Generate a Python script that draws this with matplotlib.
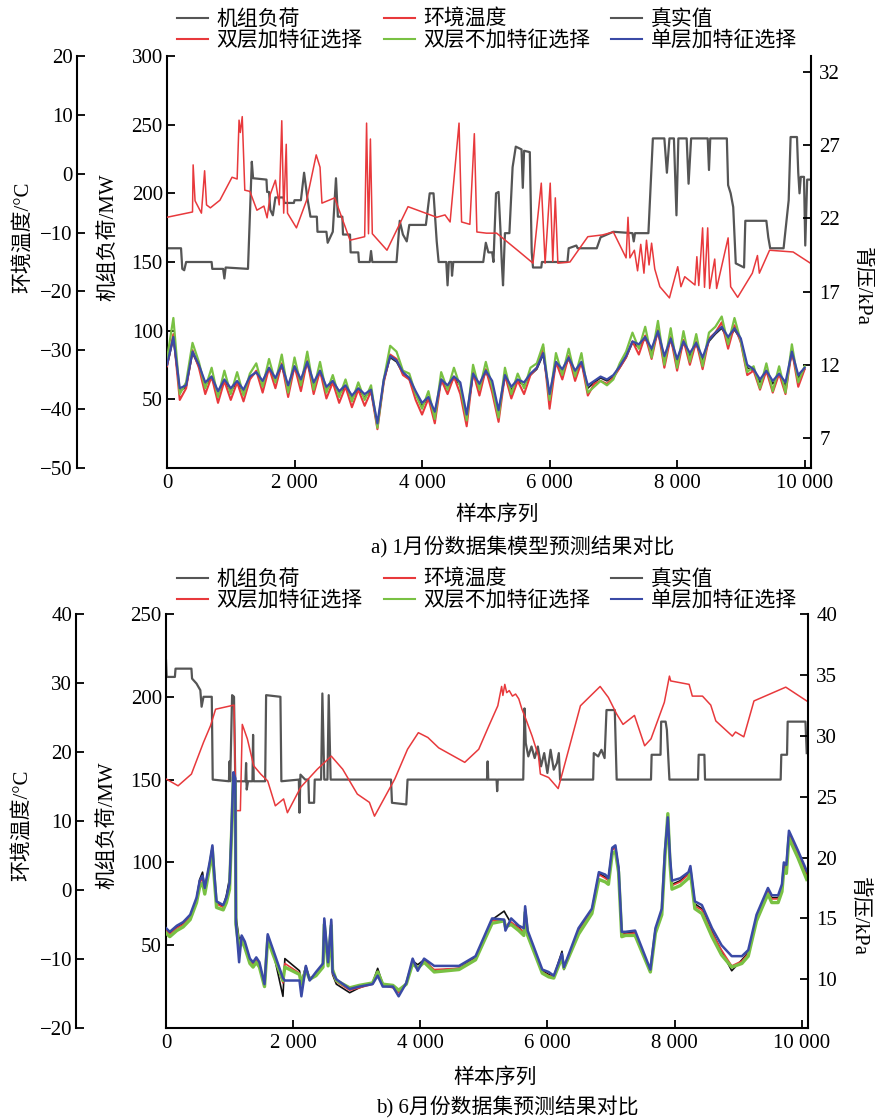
import matplotlib
matplotlib.use('Agg')
import matplotlib.pyplot as plt
from matplotlib.lines import Line2D

plt.rcParams['font.family'] = ['Liberation Serif', 'Noto Sans CJK SC']
plt.rcParams['axes.unicode_minus'] = True

# region data
xtick_vals = [0, 2000, 4000, 6000, 8000, 10000]
xtick_labels = ['0', '2 000', '4 000', '6 000', '8 000', '10 000']

# --- a) January ---
load_a_x = [0, 220, 240, 270, 300, 700, 710, 880, 900, 920, 1270, 1330, 1350, 1560, 1570, 1600, 1620,
            1660, 1700, 1830, 1840, 1990, 2000, 2100, 2150, 2200, 2250, 2350, 2360, 2500, 2520, 2600,
            2650, 2680, 2750, 2760, 2870, 2880, 3000, 3010, 3180, 3200, 3220, 3600, 3650, 3700, 3760,
            3800, 4060, 4120, 4180, 4230, 4260, 4380, 4400, 4420, 4460, 4470, 4490, 4960, 5000, 5040,
            5100, 5120, 5160, 5200, 5230, 5250, 5270, 5300, 5370, 5420, 5470, 5560, 5580, 5600, 5690,
            5720, 5740, 5870, 5880, 6280, 6300, 6420, 6440, 6740, 6800, 7000, 7300, 7320, 7340, 7550,
            7620, 7800, 7840, 7880, 7950, 7990, 8020, 8150, 8180, 8220, 8480, 8500, 8520, 8780, 8800,
            8840, 8880, 8920, 9050, 9070, 9400, 9430, 9460, 9670, 9750, 9780, 9880, 9900, 9920, 9940,
            9990, 10010, 10040, 10090]
load_a_y = [160, 160, 145, 144, 150, 150, 145, 145, 138, 146, 145, 223, 211, 210, 201, 201, 188,
            184, 197, 197, 193, 193, 195, 195, 215, 197, 183, 183, 172, 172, 164, 172,
            211, 183, 183, 170, 170, 157, 157, 150, 150, 158, 150, 150, 180, 170, 165,
            177, 177, 200, 200, 165, 150, 150, 133, 150, 150, 140, 150, 150, 164, 157,
            157, 150, 200, 201, 173, 150, 133, 171, 171, 219, 234, 232, 204, 231, 230,
            157, 146, 146, 150, 150, 160, 162, 160, 160, 168, 172, 171, 165, 171, 171,
            240, 240, 215, 240, 240, 184, 240, 240, 207, 240, 240, 217, 240, 240, 206,
            200, 190, 149, 146, 180, 180, 168, 160, 160, 195, 241, 241, 215, 200, 212,
            212, 162, 210, 210]

temp_a_x = [0, 400, 410, 440, 540, 590, 620, 680, 830, 1020, 1100, 1130, 1150, 1180, 1220, 1300,
            1410, 1520, 1570, 1620, 1700, 1760, 1800, 1830, 1870, 1890, 2030, 2190, 2340, 2400,
            2430, 2630, 2870, 3100, 3130, 3160, 3190, 3220, 3450, 3780, 4230, 4360, 4440, 4580,
            4620, 4750, 4820, 4860, 5010, 5170, 5530, 5740, 5870, 5930, 6010, 6050, 6090, 6130,
            6320, 6600, 6830, 7000, 7200, 7230, 7260, 7330, 7380, 7430, 7480, 7520, 7560, 7600,
            7650, 7730, 7880, 8010, 8060, 8120, 8280, 8310, 8340, 8400, 8430, 8480, 8510, 8590,
            8620, 8800, 8840, 8950, 9180, 9260, 9290, 9450, 9820, 10090]
temp_a_y = [-7.4, -6.5, 1.5, -4.6, -6.7, 0.5, -5.3, -5.8, -4.5, -0.6, -0.9, 9.1, 7.0, 9.7, -2.8, -3.0,
            -6.2, -5.5, -7.5, -3.5, -1.1, -5.3, 9.0, -6.7, 5.0, -6.7, -9.2, -4.5, 3.2, 1.1,
            -5.0, -4.1, -11.3, -10.7, 8.6, -10.2, 5.9, -10.2, -13.0, -5.6, -7.4, -7.0, -8.2, 8.6,
            -8.2, -8.6, 6.8, -9.9, -10.1, -10.1, -13.3, -15.2, -1.6, -15.2, -1.6, -14.9, -4.1, -15.2,
            -15.0, -10.7, -10.4, -9.9, -14.3, -7.4, -14.3, -13.0, -16.5, -12.0, -16.9, -11.3, -15.5, -11.8,
            -16.2, -19.2, -21.1, -15.8, -19.2, -17.5, -18.9, -14.1, -19.0, -9.2, -19.3, -9.2, -19.5, -14.5,
            -19.5, -10.9, -19.2, -21.0, -16.9, -13.9, -16.9, -13.0, -13.3, -15.2]

pred_a_x = list(range(0, 10001, 100))
true_a = [11.9, 13.8, 10.2, 10.5, 12.8, 11.9, 10.6, 11.1, 10.0, 10.9,
          10.2, 10.8, 10.1, 11.1, 11.5, 10.7, 11.7, 10.9, 11.9, 10.4,
          11.8, 10.8, 12.1, 10.6, 11.5, 10.3, 10.8, 10.0, 10.5, 9.7,
          10.3, 9.8, 10.2, 7.8, 10.9, 12.5, 12.2, 11.4, 11.0, 10.0,
          9.2, 9.7, 8.6, 10.9, 10.4, 11.1, 10.6, 8.4, 11.3, 10.5,
          11.5, 10.7, 8.7, 11.2, 10.3, 10.9, 10.6, 11.3, 11.7, 12.7,
          9.8, 12.1, 11.5, 12.4, 11.4, 12.1, 10.4, 10.8, 11.1, 10.9,
          11.2, 11.8, 12.5, 13.5, 13.2, 13.8, 12.9, 14.2, 12.4, 13.7,
          12.2, 13.5, 12.6, 13.4, 12.3, 13.6, 14.1, 14.5, 13.7, 14.4,
          13.7, 11.8, 11.6, 10.8, 11.5, 10.7, 11.3, 10.6, 12.8, 11.1,
          11.7]
dual_fs_a = [11.9, 14.1, 9.6, 10.4, 13.0, 11.8, 10.0, 11.2, 9.4, 10.9,
             9.6, 10.8, 9.5, 11.0, 11.6, 10.1, 11.8, 10.4, 12.1, 9.8,
             11.9, 10.2, 12.3, 10.0, 11.6, 9.7, 10.8, 9.4, 10.5, 9.1,
             10.3, 9.2, 10.2, 7.6, 10.8, 12.7, 12.4, 11.3, 11.0, 9.6,
             8.6, 9.7, 8.0, 11.0, 10.0, 11.2, 10.0, 7.8, 11.5, 9.9,
             11.7, 10.1, 8.1, 11.3, 9.7, 10.9, 10.0, 11.3, 11.8, 13.2,
             9.0, 12.2, 11.0, 12.6, 10.9, 12.2, 9.9, 10.7, 10.9, 10.7,
             11.1, 11.8, 12.5, 13.6, 12.7, 14.0, 12.4, 14.4, 11.8, 13.9,
             11.6, 13.7, 12.0, 13.6, 11.7, 13.8, 14.2, 14.9, 13.1, 14.7,
             13.5, 11.3, 11.6, 10.3, 11.6, 10.1, 11.4, 10.0, 13.0, 10.5,
             11.7]
dual_nofs_a = [12.4, 15.2, 10.0, 10.8, 13.5, 12.2, 10.4, 11.8, 9.8, 11.6,
               10.0, 11.5, 9.9, 11.4, 12.1, 10.5, 12.4, 10.8, 12.7, 10.1,
               12.5, 10.6, 12.9, 10.3, 12.2, 10.1, 11.3, 9.8, 11.0, 9.5,
               10.8, 9.6, 10.6, 7.7, 11.0, 13.3, 12.9, 11.6, 11.4, 10.0,
               9.0, 10.2, 8.3, 11.5, 10.3, 11.8, 10.5, 8.2, 12.0, 10.3,
               12.2, 10.5, 8.4, 11.8, 10.0, 11.4, 10.4, 11.8, 12.1, 13.4,
               9.6, 12.8, 11.3, 13.1, 11.2, 12.8, 10.1, 10.5, 10.9, 10.6,
               11.0, 12.1, 12.9, 14.2, 13.1, 14.6, 12.5, 15.0, 12.0, 14.5,
               11.8, 14.3, 12.2, 14.1, 11.9, 14.2, 14.6, 15.3, 13.4, 15.2,
               13.6, 11.5, 11.9, 10.4, 12.1, 10.2, 11.9, 10.1, 13.4, 10.8,
               11.9]
single_fs_a = [12.0, 13.9, 10.4, 10.6, 12.9, 12.0, 10.8, 11.2, 10.2, 11.0,
               10.4, 10.9, 10.3, 11.2, 11.5, 10.9, 11.8, 11.1, 12.0, 10.6,
               11.9, 11.0, 12.2, 10.8, 11.6, 10.5, 10.9, 10.2, 10.6, 9.9,
               10.4, 10.0, 10.3, 8.0, 11.0, 12.6, 12.3, 11.5, 11.1, 10.2,
               9.4, 9.8, 8.8, 11.0, 10.6, 11.2, 10.8, 8.6, 11.4, 10.7,
               11.6, 10.9, 8.9, 11.3, 10.5, 11.0, 10.8, 11.4, 11.8, 12.8,
               10.0, 12.2, 11.7, 12.5, 11.6, 12.2, 10.6, 10.9, 11.2, 11.0,
               11.3, 11.9, 12.6, 13.6, 13.4, 13.9, 13.1, 14.3, 12.6, 13.8,
               12.4, 13.6, 12.8, 13.5, 12.5, 13.7, 14.2, 14.6, 13.9, 14.5,
               13.8, 12.0, 11.7, 11.0, 11.6, 10.9, 11.4, 10.8, 12.9, 11.3,
               11.8]

# --- b) June ---
load_b_x = [0, 10, 140, 150, 400, 410, 480, 540, 560, 590, 720, 735, 990, 1000, 1010, 1040, 1070,
            1090, 1250, 1260, 1270, 1290, 1360, 1370, 1380, 1560, 1575, 1800, 1815, 2090, 2100, 2115,
            2190, 2240, 2250, 2330, 2340, 2440, 2460, 2490, 2540, 2560, 2590, 3540, 3555, 3780, 3800,
            5050, 5060, 5070, 5200, 5210, 5220, 5620, 5640, 5660, 5700, 5750, 5800, 5850, 5900, 5950,
            6000, 6050, 6100, 6150, 6180, 6200, 6720, 6730, 6800, 6850, 6900, 6930, 7060, 7090, 7630,
            7640, 7780, 7790, 7860, 7880, 7920, 8370, 8380, 8470, 8480, 9670, 9680, 9770, 9780, 10060,
            10080]
load_b_y = [222, 212, 212, 217, 217, 211, 208, 204, 194, 200, 200, 150, 149, 161, 149, 201, 200,
            149, 149, 160, 144, 149, 149, 177, 149, 149, 201, 200, 149, 150, 130, 153,
            150, 150, 136, 136, 150, 150, 202, 150, 150, 201, 150, 150, 136, 135, 150,
            150, 161, 150, 150, 143, 150, 150, 193, 172, 164, 170, 163, 170, 158, 166,
            154, 168, 156, 160, 166, 150, 150, 166, 164, 168, 163, 192, 192, 150, 150,
            165, 165, 185, 185, 180, 150, 150, 165, 165, 150, 150, 165, 165, 185, 185,
            166]

temp_b_x = [0, 190, 400, 590, 700, 780, 1070, 1100, 1170, 1200, 1280, 1380, 1490, 1600, 1720, 1850,
            1910, 2120, 2380, 2600, 2780, 3010, 3200, 3280, 3600, 3800, 3970, 4120, 4290, 4700, 4920,
            5080, 5220, 5280, 5300, 5330, 5360, 5400, 5450, 5500, 5550, 5600, 5660, 5760, 5860, 5890,
            6020, 6170, 6520, 6830, 6960, 7090, 7190, 7370, 7530, 7630, 7840, 7920, 7940, 8230, 8280,
            8440, 8570, 8650, 8910, 8960, 9090, 9250, 9750, 10080]
temp_b_y = [16.1, 15.1, 16.8, 21.4, 23.8, 26.2, 26.8, 11.5, 11.5, 24.0, 21.9, 18.0, 16.8, 15.8, 12.2, 13.2,
            11.2, 14.9, 17.5, 19.4, 17.5, 13.9, 12.7, 10.7, 16.1, 20.4, 22.8, 22.1, 20.6, 18.5, 20.4,
            23.8, 26.7, 29.5, 28.2, 29.8, 28.6, 28.9, 28.1, 28.4, 27.7, 26.2, 24.8, 22.3, 19.4, 16.8,
            16.3, 14.7, 26.7, 29.5, 27.9, 25.5, 24.0, 25.3, 20.9, 21.9, 27.2, 31.0, 30.3, 29.8, 28.1,
            28.1, 26.8, 24.5, 22.3, 22.9, 22.2, 27.4, 29.4, 27.4]

pred_b_x = [0, 60, 170, 270, 380, 480, 530, 575, 610, 690,
            730, 755, 795, 900, 950, 1000, 1030, 1060, 1090, 1100,
            1150, 1190, 1240, 1320, 1370, 1420, 1470, 1550, 1600, 1680,
            1840, 1870, 2100, 2130, 2200, 2260, 2360, 2470, 2490, 2550,
            2600, 2620, 2680, 2890, 3040, 3250, 3330, 3410, 3570, 3660,
            3780, 3880, 3960, 4060, 4220, 4610, 4870, 5130, 5320, 5340,
            5430, 5550, 5630, 5650, 5690, 5920, 6020, 6100, 6230, 6260,
            6490, 6700, 6810, 6910, 6960, 7020, 7070, 7120, 7170, 7230,
            7380, 7620, 7700, 7800, 7850, 7895, 7930, 7960, 8090, 8220,
            8250, 8320, 8430, 8590, 8740, 8900, 9060, 9160, 9290, 9470,
            9530, 9630, 9690, 9720, 9760, 9800, 9940, 10080]
true_b = [14.1, 13.8, 14.3, 14.6, 15.2, 16.6, 18.2, 18.8, 17.4, 19.6,
          20.9, 18.9, 16.3, 16.0, 16.9, 18.3, 22.1, 26.9, 26.4, 15.2,
          13.3, 13.5, 13.0, 11.6, 11.3, 11.7, 11.3, 9.4, 13.6, 12.4,
          8.6, 11.7, 10.7, 9.7, 11.1, 10.0, 10.5, 11.2, 14.9, 11.3,
          14.8, 10.4, 9.6, 8.9, 9.3, 9.7, 10.9, 9.6, 9.4, 9.0,
          9.6, 11.5, 11.2, 11.6, 10.7, 10.9, 11.8, 14.9, 15.6, 15.4,
          14.6, 14.3, 13.8, 15.9, 13.9, 10.7, 10.4, 10.2, 12.3, 10.8,
          14.0, 15.7, 18.7, 18.4, 18.2, 20.7, 20.9, 19.1, 13.8, 13.8,
          13.9, 10.6, 14.1, 15.7, 20.5, 23.2, 19.8, 17.8, 18.1, 18.7,
          19.1, 16.2, 15.8, 13.9, 12.3, 10.7, 11.6, 12.2, 15.1, 17.4,
          16.7, 16.7, 17.6, 19.5, 19.2, 22.0, 20.4, 18.6]
dual_fs_b = [14.0, 13.7, 14.2, 14.5, 15.1, 16.5, 17.9, 18.3, 17.3, 19.5,
             20.8, 18.8, 16.2, 15.9, 16.5, 17.7, 22.0, 26.8, 26.3, 14.6,
             12.8, 13.4, 12.9, 11.5, 11.2, 11.6, 11.2, 9.5, 13.5, 12.3,
             9.7, 11.3, 10.5, 9.8, 10.9, 10.1, 10.4, 11.1, 14.8, 11.2,
             14.7, 10.5, 9.8, 9.1, 9.3, 9.6, 10.5, 9.5, 9.3, 8.9,
             9.6, 11.5, 10.9, 11.5, 10.8, 10.9, 11.7, 14.8, 14.9, 14.4,
             14.7, 14.2, 13.9, 15.8, 13.8, 10.6, 10.3, 10.2, 11.9, 10.9,
             13.9, 15.6, 18.6, 18.3, 18.1, 20.6, 20.8, 19.0, 13.7, 13.7,
             13.8, 10.7, 14.0, 15.6, 20.4, 23.4, 19.7, 17.7, 18.0, 18.6,
             19.0, 16.0, 15.7, 13.8, 12.4, 11.1, 11.5, 12.1, 15.0, 17.2,
             16.6, 16.6, 17.5, 19.3, 19.0, 21.9, 20.3, 18.5]
dual_nofs_b = [13.8, 13.5, 14.0, 14.3, 14.9, 16.3, 17.6, 17.9, 17.0, 19.3,
               20.6, 18.6, 15.9, 15.7, 16.3, 17.4, 21.8, 26.6, 26.1, 14.5,
               12.6, 13.2, 12.6, 11.3, 11.0, 11.4, 11.0, 9.4, 13.3, 12.1,
               9.9, 11.0, 10.4, 9.6, 10.8, 10.0, 10.3, 11.0, 14.5, 11.1,
               14.4, 10.8, 9.9, 9.3, 9.5, 9.7, 10.6, 9.6, 9.5, 9.1,
               9.6, 11.3, 10.9, 11.4, 10.6, 10.8, 11.6, 14.6, 14.8, 14.3,
               14.5, 14.0, 13.6, 15.5, 13.6, 10.5, 10.2, 10.1, 11.8, 10.9,
               13.7, 15.4, 18.2, 18.0, 17.8, 20.3, 20.5, 18.8, 13.5, 13.6,
               13.6, 10.6, 13.8, 15.3, 20.1, 23.6, 19.4, 17.4, 17.7, 18.3,
               18.8, 15.8, 15.4, 13.5, 12.0, 11.0, 11.3, 11.9, 14.8, 17.0,
               16.3, 16.3, 17.2, 19.0, 18.7, 21.6, 20.0, 18.2]
single_fs_b = [14.2, 13.9, 14.4, 14.7, 15.3, 16.7, 18.1, 18.5, 17.5, 19.7,
               21.0, 19.0, 16.4, 16.1, 16.7, 17.9, 22.2, 27.0, 26.5, 14.7,
               11.4, 13.6, 13.1, 11.7, 11.4, 11.8, 11.4, 9.6, 13.7, 12.5,
               10.1, 9.9, 9.9, 8.6, 11.1, 9.9, 10.6, 11.3, 15.0, 11.4,
               14.9, 10.6, 10.0, 9.2, 9.4, 9.6, 10.3, 9.4, 9.4, 8.6,
               9.7, 11.7, 10.7, 11.7, 11.1, 11.1, 11.9, 15.0, 14.9, 14.0,
               15.0, 14.4, 14.2, 16.0, 14.0, 10.8, 10.6, 10.3, 12.1, 11.0,
               14.2, 15.8, 18.8, 18.6, 18.3, 20.8, 21.0, 19.2, 13.9, 13.9,
               14.0, 10.8, 14.2, 15.8, 20.6, 23.3, 20.0, 18.1, 18.3, 18.8,
               19.3, 16.4, 16.1, 14.2, 12.8, 11.9, 11.9, 12.4, 15.3, 17.5,
               16.9, 16.9, 17.8, 19.6, 19.4, 22.2, 20.6, 18.9]
# endregion

# region style
GREY = '#555555'
TRUE = '#222222'
RED = '#e8393c'
GREEN = '#79c143'
BLUE = '#3a4aa6'
TICK_FS = 15
LABEL_FS = 15
# endregion


def make_panel(fig, rect, mw_lim, mw_ticks, t_lim, t_ticks, p_lim, p_ticks, lab_y, right_lab_y, xlab_y):
    """Main load axis plus a detached temperature axis (left) and pressure axis (right)."""
    ax = fig.add_axes(rect)
    axT = ax.twinx()
    axP = ax.twinx()

    ax.spines['top'].set_visible(False)
    ax.spines['right'].set_visible(False)
    for s in ('left', 'bottom'):
        ax.spines[s].set_linewidth(1.5)

    for s in ('right', 'top', 'bottom'):
        axT.spines[s].set_visible(False)
    axT.spines['left'].set_visible(True)
    axT.spines['left'].set_linewidth(1.5)
    axT.spines['left'].set_position(('axes', -0.1398))
    axT.yaxis.set_ticks_position('left')
    axT.yaxis.set_label_position('left')

    for s in ('left', 'top', 'bottom'):
        axP.spines[s].set_visible(False)
    axP.spines['right'].set_linewidth(1.5)

    ax.set_xlim(0, 10100)
    ax.set_xticks(xtick_vals, labels=xtick_labels)
    ax.set_ylim(*mw_lim)
    ax.set_yticks(mw_ticks)
    axT.set_ylim(*t_lim)
    axT.set_yticks(t_ticks)
    axP.set_ylim(*p_lim)
    axP.set_yticks(p_ticks)

    ax.tick_params(axis='both', direction='in', length=6, width=1.3, labelsize=TICK_FS, pad=4)
    ax.tick_params(axis='y', pad=3)
    axT.tick_params(axis='y', direction='in', length=6, width=1.3, labelsize=TICK_FS, pad=3)
    axP.tick_params(axis='y', direction='in', length=6, width=1.3, labelsize=TICK_FS, pad=6)

    # y labels: coords give the right edge of the rotated text
    ax.set_ylabel('机组负荷/MW', fontsize=LABEL_FS)
    ax.yaxis.set_label_coords(-0.076, lab_y)
    axT.set_ylabel('环境温度/°C', fontsize=LABEL_FS)
    axT.yaxis.set_label_coords(-0.207, lab_y)
    axP.set_ylabel('背压/kPa', fontsize=LABEL_FS, rotation=270, va='center')
    axP.yaxis.set_label_coords(1.079, right_lab_y)
    ax.set_xlabel('样本序列', fontsize=LABEL_FS)
    ax.xaxis.set_label_coords(0.512, xlab_y)
    return ax, axT, axP


fig = plt.figure(figsize=(8.75, 11.2), dpi=100)

# a) January panel
ax, axT, axP = make_panel(fig, [167 / 875, 1 - 468 / 1120, 644 / 875, 412 / 1120],
                          (0, 300), [50, 100, 150, 200, 250, 300],
                          (-50, 20), list(range(-50, 21, 10)),
                          (4.95, 33.1), [7, 12, 17, 22, 27, 32], 0.56, 0.44, -0.09)
ax.plot(load_a_x, load_a_y, color=GREY, lw=1.6)
axT.plot(temp_a_x, temp_a_y, color=RED, lw=1.1)
axP.plot(pred_a_x, true_a, color=TRUE, lw=1.2)
axP.plot(pred_a_x, dual_fs_a, color=RED, lw=1.5)
axP.plot(pred_a_x, dual_nofs_a, color=GREEN, lw=1.6)
axP.plot(pred_a_x, single_fs_a, color=BLUE, lw=1.6)

# b) June panel
bx, bxT, bxP = make_panel(fig, [166 / 875, 1 - 1028 / 1120, 642 / 875, 414 / 1120],
                          (0, 250), [50, 100, 150, 200, 250],
                          (-20, 40), list(range(-20, 41, 10)),
                          (6.0, 40), [10, 15, 20, 25, 30, 35, 40], 0.49, 0.27, -0.097)
bx.plot(load_b_x, load_b_y, color=GREY, lw=1.6)
bxT.plot(temp_b_x, temp_b_y, color=RED, lw=1.1)
bxP.plot(pred_b_x, true_b, color='#111111', lw=1.2)
bxP.plot(pred_b_x, dual_fs_b, color=RED, lw=1.2)
bxP.plot(pred_b_x, dual_nofs_b, color=GREEN, lw=2.4)
bxP.plot(pred_b_x, single_fs_b, color=BLUE, lw=1.8)

# legends (column-major order for ncol=3)
handles = [Line2D([], [], color=GREY, lw=1.5, label='机组负荷'),
           Line2D([], [], color=RED, lw=1.5, label='双层加特征选择'),
           Line2D([], [], color=RED, lw=1.5, label='环境温度'),
           Line2D([], [], color=GREEN, lw=1.5, label='双层不加特征选择'),
           Line2D([], [], color=GREY, lw=1.5, label='真实值'),
           Line2D([], [], color=BLUE, lw=1.5, label='单层加特征选择')]
for top in (10, 570):
    fig.legend(handles=handles, loc='upper left', bbox_to_anchor=(177 / 875, 1 - top / 1120),
               ncol=3, frameon=False, fontsize=LABEL_FS, handlelength=1.5, handletextpad=0.4,
               columnspacing=1.0, labelspacing=0.05, borderpad=0, borderaxespad=0)

fig.text(0.597, 1 - 547 / 1120, 'a) 1月份数据集模型预测结果对比', ha='center', va='center', fontsize=15)
fig.text(0.58, 1 - 1107 / 1120, 'b) 6月份数据集预测结果对比', ha='center', va='center', fontsize=15)

fig.savefig('out.png', dpi=100)
